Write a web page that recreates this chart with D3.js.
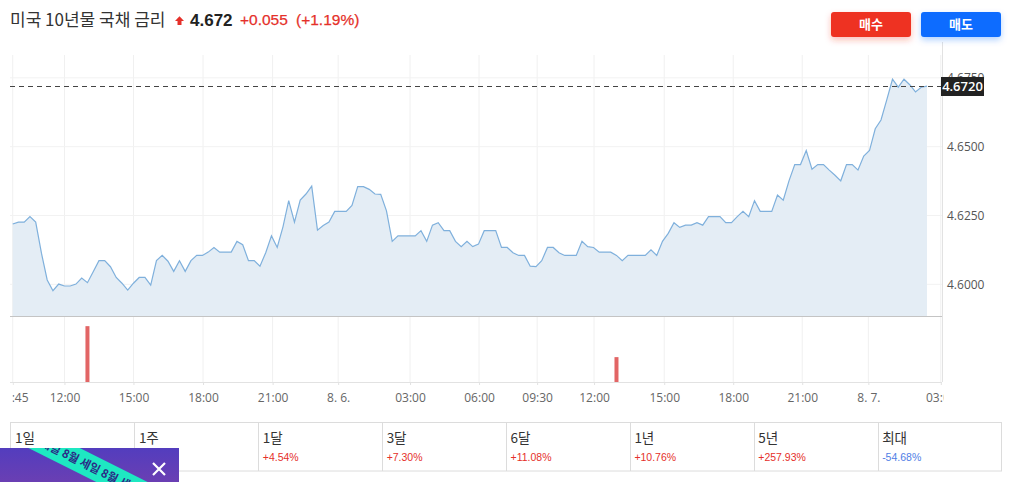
<!DOCTYPE html>
<html><head><meta charset="utf-8">
<script src="https://cdn.jsdelivr.net/npm/d3@7"></script>
<style>
html,body{margin:0;padding:0;background:#fff;}
svg{display:block;}
</style></head>
<body>
<div id="chart"></div>
<script>
// ---- data ----
const values = [
4.6219,4.6226,4.6226,4.6246,4.6226,4.6113,4.6016,4.5977,4.6001,4.5994,
4.5994,4.6001,4.6023,4.6006,4.6046,4.6086,4.6086,4.6064,4.6025,4.6004,
4.5979,4.6004,4.6025,4.6025,4.5997,4.6086,4.6105,4.6084,4.6047,4.6086,
4.6047,4.6086,4.6105,4.6105,4.6117,4.6134,4.6117,4.6117,4.6117,4.6156,
4.6144,4.6086,4.6086,4.6066,4.6115,4.6176,4.6134,4.6209,4.6304,4.6226,
4.6306,4.6328,4.6357,4.6197,4.6214,4.6226,4.6265,4.6265,4.6265,4.6287,
4.6355,4.6355,4.6345,4.6328,4.6327,4.6267,4.6156,4.6176,4.6176,4.6176,
4.6176,4.6195,4.6156,4.6215,4.6224,4.6195,4.6195,4.6156,4.6137,4.6156,
4.6137,4.6146,4.6195,4.6195,4.6195,4.6134,4.6134,4.6115,4.6105,4.6105,
4.6066,4.6064,4.6086,4.6134,4.6134,4.6115,4.6105,4.6105,4.6105,4.6156,
4.6137,4.6134,4.6117,4.6117,4.6117,4.6105,4.6086,4.6105,4.6105,4.6105,
4.6105,4.6125,4.6105,4.6156,4.6185,4.6224,4.6207,4.6215,4.6215,4.6224,
4.6215,4.6246,4.6246,4.6246,4.6224,4.6224,4.6246,4.6265,4.6246,4.6304,
4.6265,4.6265,4.6265,4.6324,4.6306,4.6376,4.6435,4.6435,4.6486,4.6418,
4.6435,4.6435,4.6415,4.6396,4.6376,4.6435,4.6435,4.6415,4.6466,4.6486,
4.6565,4.6597,4.6670,4.6745,4.6716,4.6745,4.6725,4.6699,4.6716,4.6720
];
const tickIdx = [0, 9, 21, 33.1, 45.2, 56.6, 69.1, 81.1, 91.2, 101.1, 113.3, 125.3, 137.3, 148.8, 161.4];
const tickLabels = ["09:45","12:00","15:00","18:00","21:00","8. 6.","03:00","06:00","09:30","12:00","15:00","18:00","21:00","8. 7.","03:00"];
const yTicks = [4.6000, 4.6250, 4.6500, 4.6750];
const volIdx = [13, 105];
const volValues = [2.2, 0.98];
const lastValue = 4.672;
const titleText = "미국 10년물 국채 금리";
const changeAbs = "+0.055";
const changePct = "(+1.19%)";
const periods = ["1일","1주","1달","3달","6달","1년","5년","최대"];
const periodChanges = ["+1.19%","","+4.54%","+7.30%","+11.08%","+10.76%","+257.93%","-54.68%"];
const bannerText = "세일 8월 세일 8월 세일 8월";

// ---- layout ----
const W = 1012, H = 482;
const L = 10, R = 942, T = 55, B = 316, VB = 382;
const svg = d3.select("#chart").append("svg").attr("width", W).attr("height", H);
const defs = svg.append("defs");
defs.append("clipPath").attr("id","xclip").append("rect").attr("x",12.5).attr("y",-5).attr("width",931).attr("height",35);
defs.append("clipPath").attr("id","banclip").append("rect").attr("x",0).attr("y",448).attr("width",179).attr("height",34);
const f1 = defs.append("filter").attr("id","shR").attr("x","-30%").attr("y","-50%").attr("width","160%").attr("height","220%");
f1.append("feDropShadow").attr("dx",0).attr("dy",3).attr("stdDeviation",3).attr("flood-color","#ee3124").attr("flood-opacity",0.3);
const f2 = defs.append("filter").attr("id","shB").attr("x","-30%").attr("y","-50%").attr("width","160%").attr("height","220%");
f2.append("feDropShadow").attr("dx",0).attr("dy",3).attr("stdDeviation",3).attr("flood-color","#0a6cff").attr("flood-opacity",0.3);
const grad = defs.append("linearGradient").attr("id","bang").attr("x1",0).attr("y1",0).attr("x2",0).attr("y2",1);
grad.append("stop").attr("offset","0%").attr("stop-color","#533dbe");
grad.append("stop").attr("offset","100%").attr("stop-color","#6a3fb3");

const x = d3.scaleLinear().domain([0, values.length - 1]).range([12.7, 927]);
const y = d3.scaleLinear().domain([4.5885, 4.6833]).range([B, T]);
const v = d3.scaleLinear().domain([0, 2.6]).range([VB, B]);

// grid
const g = svg.append("g");
g.selectAll(".vg").data(tickIdx).join("line")
  .attr("x1", d => x(d)).attr("x2", d => x(d)).attr("y1", T).attr("y2", VB)
  .attr("stroke", "#f0f0f0").attr("stroke-width", 1);
g.selectAll(".hg").data(yTicks).join("line")
  .attr("x1", L).attr("x2", R).attr("y1", d => y(d)).attr("y2", d => y(d))
  .attr("stroke", "#f2f2f2").attr("stroke-width", 1);

// area + line
const idx = d3.range(values.length);
svg.append("path").datum(idx)
  .attr("d", d3.area().x(i => x(i)).y0(B).y1(i => y(values[i])))
  .attr("fill", "#e4edf5");
svg.append("path").datum(idx)
  .attr("d", d3.line().x(i => x(i)).y(i => y(values[i])))
  .attr("fill", "none").attr("stroke", "#7fb0dc").attr("stroke-width", 1.2);

// separator & axis lines
svg.append("line").attr("x1", L).attr("x2", R).attr("y1", B + 0.5).attr("y2", B + 0.5).attr("stroke", "#c4c4c4");
svg.append("line").attr("x1", R + 0.5).attr("x2", R + 0.5).attr("y1", 42).attr("y2", VB).attr("stroke", "#e2e2e2");

// volume bars
svg.selectAll(".vb").data(volIdx).join("rect")
  .attr("x", d => x(d) - 2).attr("width", 4)
  .attr("y", (d, i) => v(volValues[i])).attr("height", (d, i) => VB - v(volValues[i]))
  .attr("fill", "#e26565");

// x axis
const xa = svg.append("g").attr("transform", `translate(0,${VB})`).attr("clip-path","url(#xclip)")
  .call(d3.axisBottom(x).tickValues(tickIdx).tickFormat((d, i) => tickLabels[i]).tickSizeInner(3).tickSizeOuter(0).tickPadding(8));
xa.select(".domain").attr("stroke", "#e2e2e2");
xa.selectAll(".tick line").attr("stroke", "#e2e2e2");
xa.selectAll("text").attr("fill", "#666").attr("font-size", 12).attr("font-family", "'Open Sans', sans-serif");
svg.append("line").attr("x1", L).attr("x2", R).attr("y1", VB + 0.5).attr("y2", VB + 0.5).attr("stroke", "#e2e2e2");

// y axis
const ya = svg.append("g").attr("transform", `translate(${R},0)`)
  .call(d3.axisRight(y).tickValues(yTicks).tickFormat(d3.format(".4f")).tickSize(0).tickPadding(5));
ya.select(".domain").remove();
ya.selectAll("text").attr("fill", "#555").attr("font-size", 12).attr("font-family", "'Open Sans', sans-serif");

// last value dashed line and label
const yl = Math.round(y(lastValue)) + 0.5;
svg.append("line").attr("x1", L).attr("x2", R).attr("y1", yl).attr("y2", yl)
  .attr("stroke", "#444").attr("stroke-dasharray", "5,4");
svg.append("rect").attr("x", R - 1).attr("y", yl - 9.5).attr("width", 43).attr("height", 19).attr("fill", "#222");
svg.append("text").attr("x", R + 20.5).attr("y", yl).attr("dy", "0.35em").attr("text-anchor", "middle")
  .attr("fill", "#fff").attr("font-size", 13).attr("font-weight", 600).attr("font-family", "'Open Sans', sans-serif")
  .text(d3.format(".4f")(lastValue));

// header
const hdr = svg.append("g");
hdr.append("text").attr("x", 10).attr("y", 20).attr("dy", "0.35em")
  .attr("font-family", "'Noto Sans CJK KR', sans-serif").attr("font-size", 17).attr("fill", "#333").text(titleText);
hdr.append("path").attr("d", "M175,21 L179.5,16.3 L184,21 L181.5,21 L181.5,25 L177.5,25 L177.5,21 Z").attr("fill", "#e5302a");
hdr.append("text").attr("x", 190).attr("y", 20).attr("dy", "0.35em")
  .attr("font-family", "'Liberation Sans', Arial, sans-serif").attr("font-size", 17).attr("font-weight", "bold").attr("fill", "#222")
  .text(d3.format(".3f")(lastValue));
hdr.append("text").attr("x", 240).attr("y", 20).attr("dy", "0.35em")
  .attr("font-family", "'Liberation Sans', Arial, sans-serif").attr("font-size", 15.5).attr("fill", "#e5302a")
  .attr("stroke", "#e5302a").attr("stroke-width", 0.25).text(changeAbs);
hdr.append("text").attr("x", 296).attr("y", 20).attr("dy", "0.35em")
  .attr("font-family", "'Liberation Sans', Arial, sans-serif").attr("font-size", 15.5).attr("fill", "#e5302a")
  .attr("stroke", "#e5302a").attr("stroke-width", 0.25).text(changePct);

// buttons
const btns = [{t:"매수", x:831, c:"#ee3124", f:"url(#shR)"}, {t:"매도", x:921, c:"#0a6cff", f:"url(#shB)"}];
btns.forEach(b => {
  svg.append("rect").attr("x", b.x).attr("y", 12).attr("width", 80).attr("height", 25).attr("rx", 3)
    .attr("fill", b.c).attr("filter", b.f);
  svg.append("text").attr("x", b.x + 40).attr("y", 24.5).attr("dy", "0.35em").attr("text-anchor", "middle")
    .attr("font-family", "'Noto Sans CJK KR', sans-serif").attr("font-size", 13).attr("font-weight", "bold")
    .attr("fill", "#fff").text(b.t);
});

// period table
const colX = d3.scaleLinear().domain([0, periods.length]).range([10.5, 1001.5]);
const tb = svg.append("g");
tb.append("rect").attr("x", 10.5).attr("y", 422.5).attr("width", 991).attr("height", 48.5)
  .attr("fill", "#fff").attr("stroke", "#dcdcdc");
tb.selectAll(".cl").data(d3.range(1, periods.length)).join("line")
  .attr("x1", d => Math.round(colX(d)) + 0.5).attr("x2", d => Math.round(colX(d)) + 0.5)
  .attr("y1", 422.5).attr("y2", 471).attr("stroke", "#dcdcdc");
tb.selectAll(".pl").data(periods).join("text")
  .attr("x", (d, i) => colX(i) + 4.5).attr("y", 438).attr("dy", "0.35em")
  .attr("font-family", "'Noto Sans CJK KR', sans-serif").attr("font-size", 13.5).attr("fill", "#333").text(d => d);
tb.selectAll(".pv").data(periodChanges).join("text")
  .attr("x", (d, i) => colX(i) + 4.5).attr("y", 457).attr("dy", "0.35em")
  .attr("font-family", "'Liberation Sans', Arial, sans-serif").attr("font-size", 10.5)
  .attr("fill", d => d.startsWith("-") ? "#4f7ee6" : "#e5302a").text(d => d);

// promo banner
const ban = svg.append("g").attr("clip-path", "url(#banclip)");
ban.append("rect").attr("x", 0).attr("y", 448).attr("width", 179).attr("height", 34).attr("fill", "url(#bang)");
const st = ban.append("g").attr("transform", "translate(88,465) rotate(26.6)");
st.append("rect").attr("x", -160).attr("y", -11.5).attr("width", 320).attr("height", 23).attr("fill", "#1ee8c2");
st.append("text").attr("x", -52).attr("y", 0).attr("dy", "0.36em").attr("text-anchor", "start")
  .attr("font-family", "'Noto Sans CJK KR', sans-serif").attr("font-size", 11.5).attr("font-weight", "bold")
  .attr("fill", "#2b2a86").text(bannerText);
ban.append("path").attr("d", "M153,463 L165,475 M165,463 L153,475").attr("stroke", "#fff").attr("stroke-width", 2.2);
</script>
</body></html>
